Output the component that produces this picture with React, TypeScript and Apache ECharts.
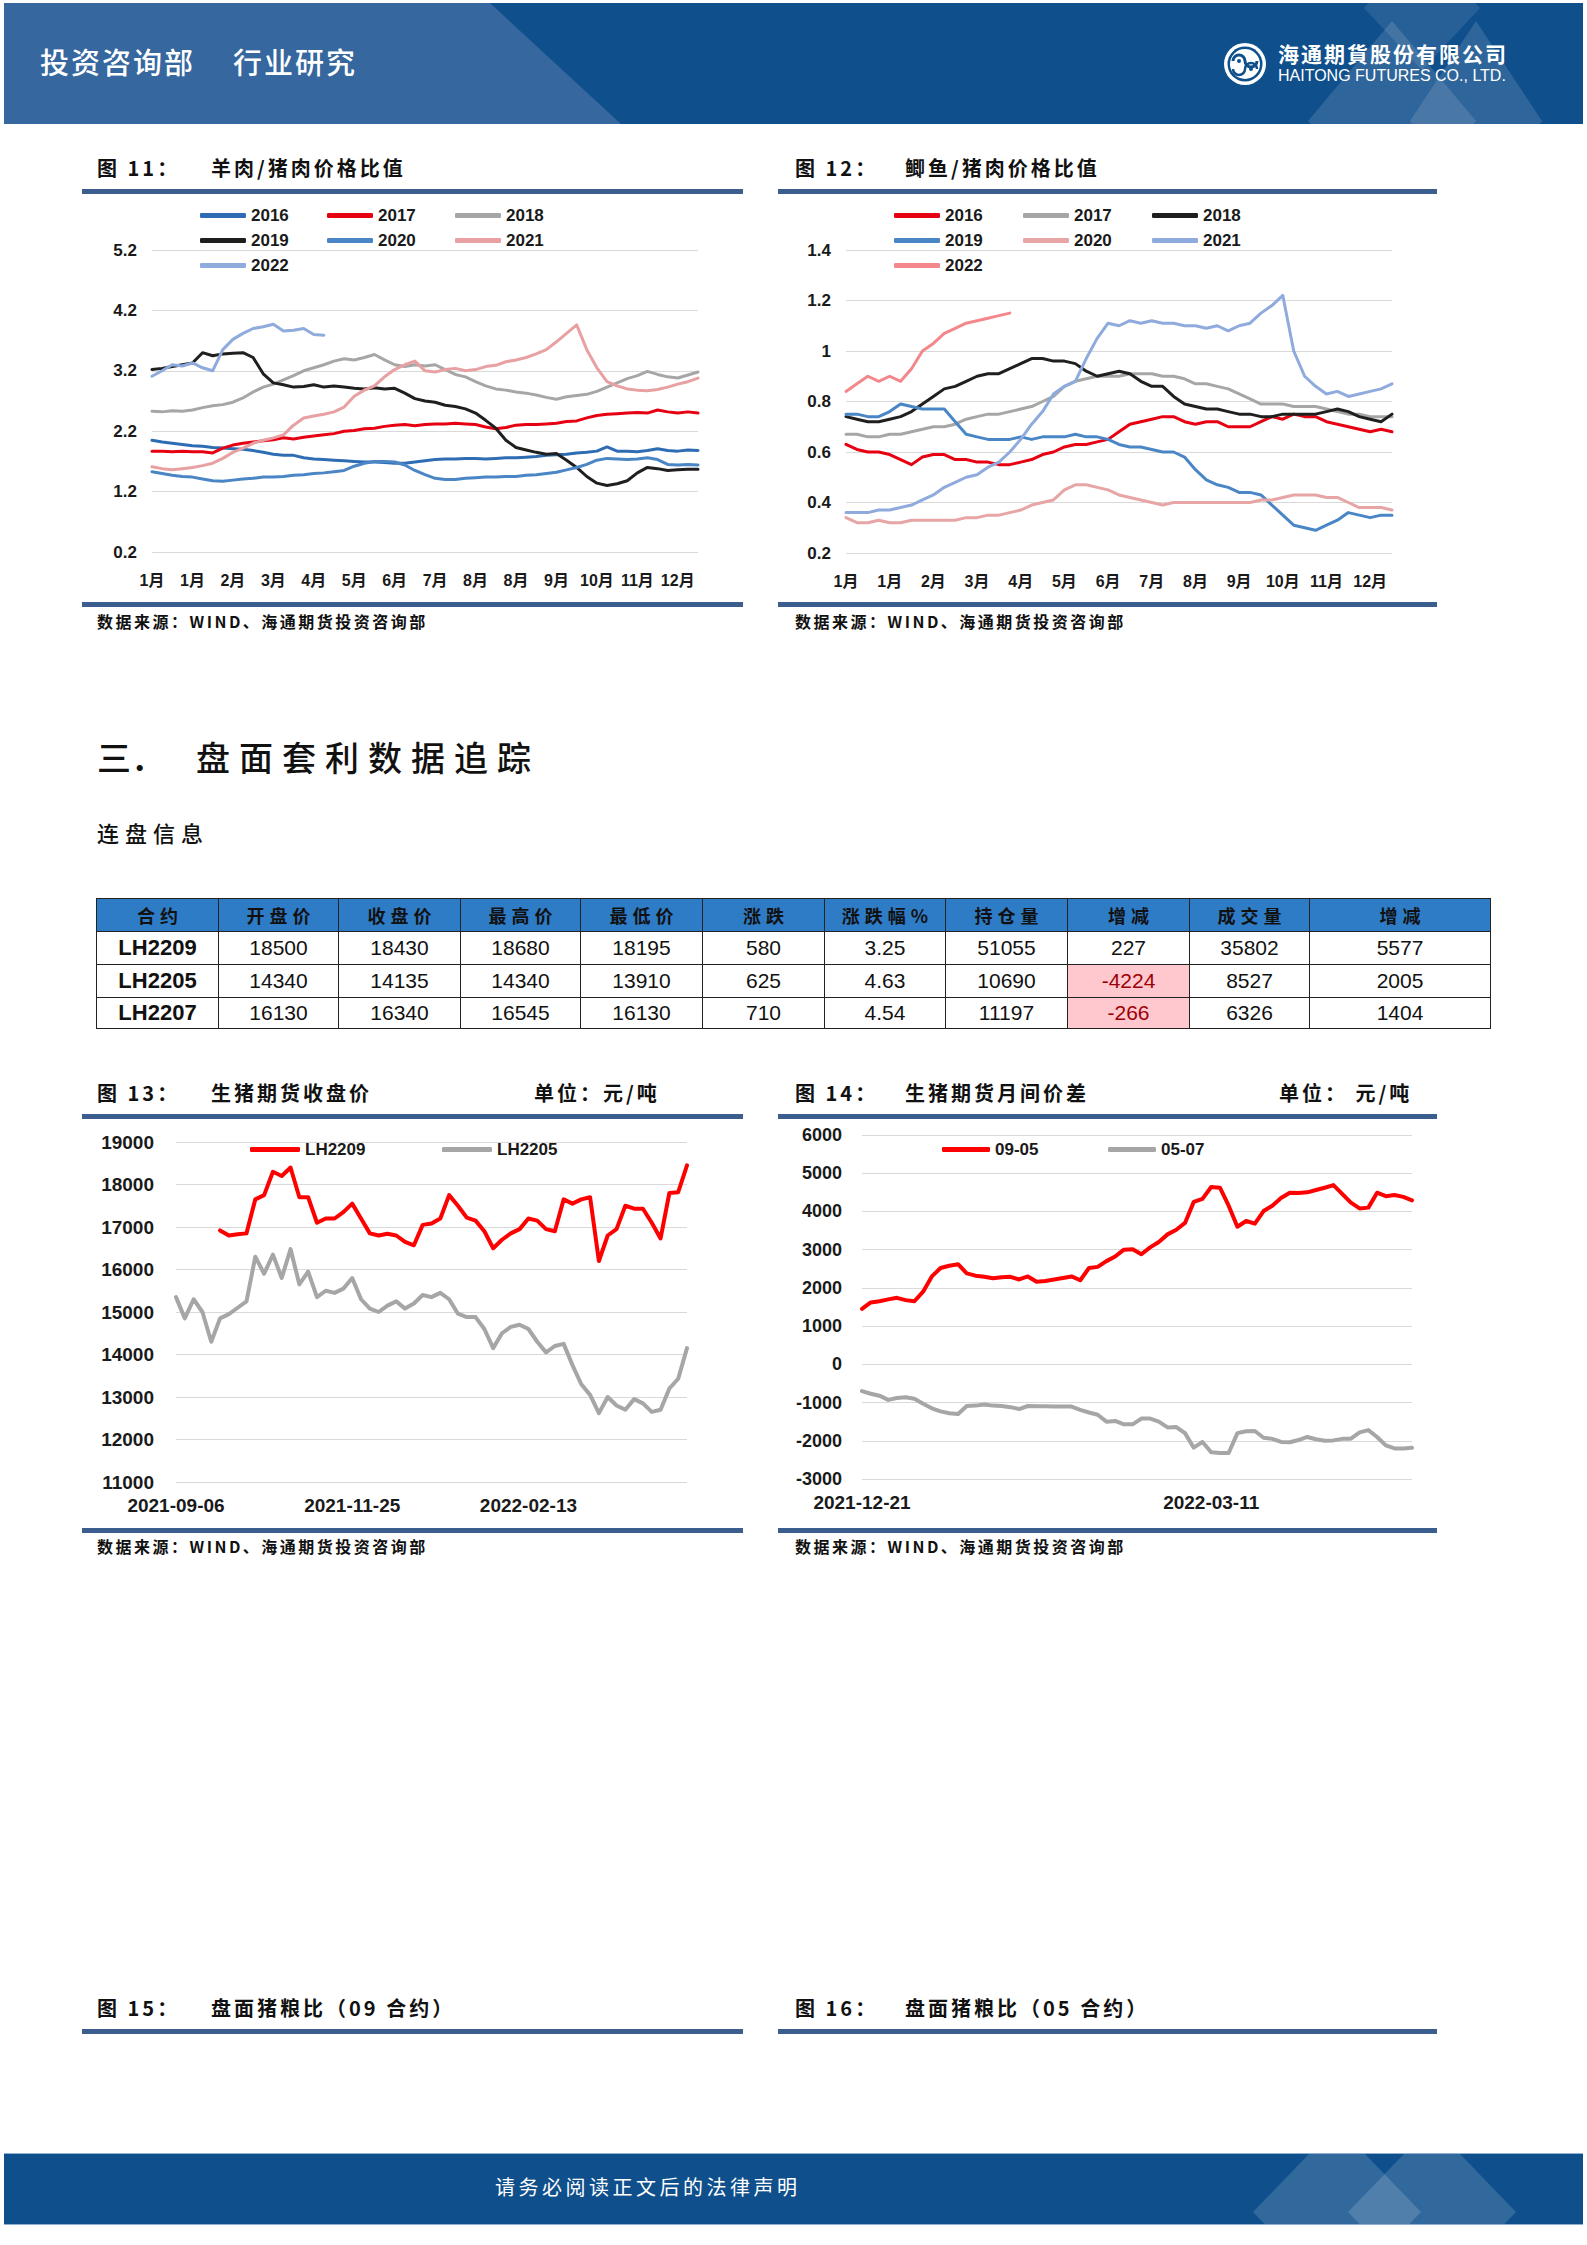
import React, { useEffect, useRef } from 'react';
import * as echarts from 'echarts';

// ---------------- DATA ----------------
const seasonNames = ['2016', '2017', '2018', '2019', '2020', '2021', '2022'];

// Fig 11: mutton / pork price ratio (55 points per year)
const monthTicks11 = ['1月', '1月', '2月', '3月', '4月', '5月', '6月', '7月', '8月', '8月', '9月', '10月', '11月', '12月'];
const mutton2016 = [2.05, 2.02, 2.0, 1.98, 1.96, 1.95, 1.93, 1.92, 1.91, 1.9, 1.88, 1.85, 1.82, 1.8, 1.8, 1.76, 1.74, 1.73, 1.72, 1.71, 1.7, 1.69, 1.69, 1.68, 1.67, 1.67, 1.69, 1.71, 1.73, 1.74, 1.74, 1.75, 1.75, 1.74, 1.75, 1.76, 1.76, 1.77, 1.78, 1.8, 1.81, 1.82, 1.84, 1.85, 1.87, 1.94, 1.87, 1.87, 1.86, 1.88, 1.91, 1.88, 1.87, 1.89, 1.88];
const mutton2017 = [1.87, 1.87, 1.86, 1.87, 1.86, 1.86, 1.84, 1.92, 1.97, 2.0, 2.02, 2.04, 2.06, 2.09, 2.07, 2.1, 2.12, 2.14, 2.16, 2.2, 2.21, 2.24, 2.25, 2.28, 2.3, 2.31, 2.29, 2.31, 2.32, 2.32, 2.33, 2.32, 2.31, 2.27, 2.24, 2.26, 2.3, 2.31, 2.31, 2.32, 2.33, 2.36, 2.37, 2.42, 2.46, 2.48, 2.49, 2.5, 2.51, 2.5, 2.55, 2.52, 2.5, 2.52, 2.5];
const mutton2018 = [2.53, 2.52, 2.54, 2.53, 2.55, 2.59, 2.62, 2.64, 2.68, 2.75, 2.85, 2.93, 2.98, 3.05, 3.12, 3.2, 3.25, 3.3, 3.36, 3.4, 3.38, 3.42, 3.47, 3.38, 3.3, 3.27, 3.3, 3.28, 3.3, 3.22, 3.14, 3.1, 3.02, 2.95, 2.9, 2.88, 2.85, 2.83, 2.8, 2.76, 2.73, 2.77, 2.79, 2.81, 2.86, 2.93, 3.0, 3.07, 3.12, 3.19, 3.14, 3.1, 3.08, 3.13, 3.18];
const mutton2019 = [3.22, 3.24, 3.27, 3.3, 3.33, 3.5, 3.45, 3.48, 3.49, 3.5, 3.42, 3.15, 3.0, 2.97, 2.93, 2.94, 2.97, 2.93, 2.95, 2.93, 2.91, 2.9, 2.92, 2.9, 2.91, 2.83, 2.74, 2.7, 2.68, 2.63, 2.61, 2.57, 2.5, 2.38, 2.25, 2.05, 1.93, 1.89, 1.85, 1.82, 1.83, 1.72, 1.6, 1.45, 1.34, 1.3, 1.33, 1.38, 1.51, 1.6, 1.58, 1.55, 1.56, 1.57, 1.57];
const mutton2020 = [1.53, 1.5, 1.47, 1.45, 1.44, 1.41, 1.38, 1.37, 1.39, 1.41, 1.42, 1.44, 1.44, 1.45, 1.47, 1.48, 1.5, 1.51, 1.53, 1.55, 1.62, 1.67, 1.7, 1.7, 1.69, 1.64, 1.55, 1.48, 1.42, 1.4, 1.4, 1.42, 1.43, 1.44, 1.44, 1.45, 1.45, 1.47, 1.48, 1.5, 1.52, 1.56, 1.6, 1.65, 1.72, 1.75, 1.74, 1.73, 1.74, 1.76, 1.73, 1.65, 1.64, 1.65, 1.64];
const mutton2021 = [1.61, 1.58, 1.56, 1.58, 1.6, 1.63, 1.67, 1.75, 1.85, 1.92, 2.0, 2.05, 2.09, 2.14, 2.3, 2.42, 2.45, 2.48, 2.52, 2.6, 2.78, 2.88, 2.95, 3.1, 3.22, 3.3, 3.36, 3.2, 3.18, 3.22, 3.24, 3.2, 3.22, 3.27, 3.29, 3.35, 3.38, 3.42, 3.48, 3.55, 3.68, 3.82, 3.96, 3.55, 3.25, 3.02, 2.95, 2.9, 2.88, 2.87, 2.89, 2.93, 2.98, 3.02, 3.08];
const mutton2022 = [3.11, 3.2, 3.3, 3.28, 3.33, 3.25, 3.2, 3.55, 3.72, 3.82, 3.9, 3.93, 3.97, 3.86, 3.87, 3.9, 3.8, 3.79];

// Fig 12: crucian carp / pork price ratio (51 points per year)
const monthTicks12 = ['1月', '1月', '2月', '3月', '4月', '5月', '6月', '7月', '8月', '9月', '10月', '11月', '12月'];
const carp2016 = [0.63, 0.61, 0.6, 0.6, 0.59, 0.57, 0.55, 0.58, 0.59, 0.59, 0.57, 0.57, 0.56, 0.56, 0.55, 0.55, 0.56, 0.57, 0.59, 0.6, 0.62, 0.63, 0.63, 0.64, 0.65, 0.68, 0.71, 0.72, 0.73, 0.74, 0.74, 0.72, 0.71, 0.72, 0.72, 0.7, 0.7, 0.7, 0.72, 0.74, 0.73, 0.75, 0.74, 0.74, 0.72, 0.71, 0.7, 0.69, 0.68, 0.69, 0.68];
const carp2017 = [0.67, 0.67, 0.66, 0.66, 0.67, 0.67, 0.68, 0.69, 0.7, 0.7, 0.71, 0.73, 0.74, 0.75, 0.75, 0.76, 0.77, 0.78, 0.8, 0.82, 0.86, 0.88, 0.89, 0.9, 0.9, 0.9, 0.91, 0.91, 0.91, 0.9, 0.9, 0.89, 0.87, 0.87, 0.86, 0.85, 0.83, 0.81, 0.79, 0.79, 0.79, 0.78, 0.78, 0.78, 0.77, 0.76, 0.75, 0.75, 0.74, 0.74, 0.74];
const carp2018 = [0.74, 0.73, 0.72, 0.72, 0.73, 0.74, 0.76, 0.79, 0.82, 0.85, 0.86, 0.88, 0.9, 0.91, 0.91, 0.93, 0.95, 0.97, 0.97, 0.96, 0.96, 0.95, 0.92, 0.9, 0.91, 0.92, 0.91, 0.88, 0.86, 0.86, 0.82, 0.79, 0.78, 0.77, 0.77, 0.76, 0.75, 0.75, 0.74, 0.74, 0.75, 0.75, 0.75, 0.75, 0.76, 0.77, 0.76, 0.74, 0.73, 0.72, 0.75];
const carp2019 = [0.75, 0.75, 0.74, 0.74, 0.76, 0.79, 0.78, 0.77, 0.77, 0.77, 0.72, 0.67, 0.66, 0.65, 0.65, 0.65, 0.66, 0.65, 0.66, 0.66, 0.66, 0.67, 0.66, 0.66, 0.65, 0.63, 0.62, 0.62, 0.61, 0.6, 0.6, 0.58, 0.53, 0.49, 0.47, 0.46, 0.44, 0.44, 0.43, 0.39, 0.35, 0.31, 0.3, 0.29, 0.31, 0.33, 0.36, 0.35, 0.34, 0.35, 0.35];
const carp2020 = [0.34, 0.32, 0.32, 0.33, 0.32, 0.32, 0.33, 0.33, 0.33, 0.33, 0.33, 0.34, 0.34, 0.35, 0.35, 0.36, 0.37, 0.39, 0.4, 0.41, 0.45, 0.47, 0.47, 0.46, 0.45, 0.43, 0.42, 0.41, 0.4, 0.39, 0.4, 0.4, 0.4, 0.4, 0.4, 0.4, 0.4, 0.4, 0.41, 0.41, 0.42, 0.43, 0.43, 0.43, 0.42, 0.42, 0.4, 0.38, 0.38, 0.38, 0.37];
const carp2021 = [0.36, 0.36, 0.36, 0.37, 0.37, 0.38, 0.39, 0.41, 0.43, 0.46, 0.48, 0.5, 0.51, 0.54, 0.56, 0.6, 0.65, 0.71, 0.76, 0.83, 0.86, 0.88, 0.97, 1.05, 1.11, 1.1, 1.12, 1.11, 1.12, 1.11, 1.11, 1.1, 1.1, 1.09, 1.1, 1.08, 1.1, 1.11, 1.15, 1.18, 1.22, 1.0, 0.9, 0.86, 0.83, 0.84, 0.82, 0.83, 0.84, 0.85, 0.87];
const carp2022 = [0.84, 0.87, 0.9, 0.88, 0.9, 0.88, 0.93, 1.0, 1.03, 1.07, 1.09, 1.11, 1.12, 1.13, 1.14, 1.15];

// Fig 13: live hog futures close (every 4 calendar days from 2021-09-06)
const closeStart = '2021-09-06';
const closeStepDays = 4;
const lh2209 = [null, null, null, null, null, 16920, 16800, 16830, 16850, 17650, 17750, 18300, 18200, 18400, 17700, 17700, 17100, 17200, 17200, 17350, 17550, 17200, 16850, 16800, 16840, 16800, 16650, 16570, 17050, 17080, 17200, 17750, 17500, 17220, 17150, 16900, 16500, 16700, 16850, 16950, 17200, 17150, 16950, 16900, 17650, 17550, 17650, 17700, 16200, 16800, 16950, 17500, 17430, 17430, 17100, 16730, 17800, 17820, 18450];
const lh2205 = [15350, 14850, 15300, 15000, 14300, 14850, 14950, 15100, 15250, 16300, 15900, 16350, 15800, 16480, 15650, 15950, 15350, 15500, 15450, 15550, 15800, 15300, 15080, 15000, 15150, 15250, 15080, 15200, 15400, 15350, 15450, 15300, 14960, 14880, 14880, 14600, 14150, 14500, 14650, 14700, 14600, 14300, 14050, 14200, 14250, 13750, 13300, 13050, 12620, 13000, 12800, 12700, 12950, 12850, 12650, 12700, 13200, 13430, 14150];

// Fig 14: calendar spreads (every 2 calendar days from 2021-12-21)
const spreadStart = '2021-12-21';
const spreadStepDays = 2;
const spread0905 = [1450, 1620, 1650, 1700, 1740, 1680, 1650, 1900, 2300, 2520, 2580, 2620, 2380, 2320, 2290, 2250, 2280, 2290, 2220, 2300, 2160, 2180, 2220, 2260, 2300, 2200, 2520, 2550, 2700, 2820, 3000, 3010, 2880, 3060, 3200, 3400, 3520, 3700, 4250, 4330, 4640, 4620, 4150, 3600, 3750, 3680, 4010, 4150, 4350, 4490, 4480, 4500, 4560, 4620, 4690, 4460, 4230, 4080, 4100, 4490, 4400, 4430, 4380, 4290];
const spread0507 = [-700, -770, -820, -930, -880, -860, -900, -1030, -1150, -1230, -1280, -1300, -1090, -1080, -1050, -1080, -1090, -1120, -1170, -1090, -1095, -1095, -1100, -1100, -1105, -1190, -1260, -1320, -1500, -1480, -1570, -1570, -1420, -1420, -1500, -1650, -1640, -1800, -2180, -2030, -2300, -2320, -2320, -1800, -1750, -1745, -1920, -1950, -2030, -2040, -1980, -1900, -1960, -2000, -1990, -1950, -1944, -1780, -1720, -1900, -2120, -2200, -2200, -2180];

// Table: continuous contract info
const tableHeaders = ['合约', '开盘价', '收盘价', '最高价', '最低价', '涨跌', '涨跌幅%', '持仓量', '增减', '成交量', '增减'];
const tableRows = [
  ['LH2209', '18500', '18430', '18680', '18195', '580', '3.25', '51055', '227', '35802', '5577'],
  ['LH2205', '14340', '14135', '14340', '13910', '625', '4.63', '10690', '-4224', '8527', '2005'],
  ['LH2207', '16130', '16340', '16545', '16130', '710', '4.54', '11197', '-266', '6326', '1404'],
];

// ---------------- STYLE ----------------
const FONT = '"Liberation Sans", Arial, "Noto Sans CJK SC", sans-serif';
const CJK = '"Noto Sans CJK SC", "Noto Sans CJK JP", sans-serif';
const BAR = '#3B5E8E';
const TXT = { color: '#1a1a1a', fontFamily: FONT, fontWeight: 'bold' as const };

const colors11 = ['#2E6DB4', '#E60012', '#A6A6A6', '#1F1F1F', '#4A86C5', '#E8A0A2', '#8FAADC'];
const colors12 = ['#E60012', '#A6A6A6', '#1F1F1F', '#4A86C5', '#E8A5A5', '#8FAADC', '#F4878B'];

function dateCats(start: string, step: number, n: number) {
  const base = Date.parse(start + 'T00:00:00Z');
  return Array.from({ length: n }, (_, i) => new Date(base + i * step * 86400000).toISOString().slice(0, 10));
}

function line(name: string, data: any[], color: string, width: number) {
  return {
    name, type: 'line', data, showSymbol: false, symbol: 'none', connectNulls: false,
    lineStyle: { color, width, join: 'round', cap: 'round' }, itemStyle: { color },
  };
}

function seasonOption(cfg: any) {
  const cats = Array.from({ length: cfg.n }, (_, i) => String(i));
  return {
    animation: false,
    grid: cfg.grid,
    legend: cfg.names.map((name: string, k: number) => ({
      data: [name], left: cfg.legendX[k % 3], top: cfg.legendY[Math.floor(k / 3)] - 9,
      padding: 0, itemWidth: 46, itemHeight: 5, icon: 'roundRect', selectedMode: false,
      textStyle: { ...TXT, fontSize: 17 },
    })),
    xAxis: {
      type: 'category', data: cats, boundaryGap: false,
      axisLine: { show: false }, axisTick: { show: false },
      axisLabel: {
        ...TXT, fontSize: 16, margin: 20,
        interval: (i: number) => i % cfg.step === 0,
        formatter: (_v: string, i: number) => cfg.ticks[i / cfg.step] ?? '',
      },
    },
    yAxis: {
      type: 'value', min: cfg.yMin, max: cfg.yMax, interval: cfg.yInt,
      axisLine: { show: false }, axisTick: { show: false },
      splitLine: { lineStyle: { color: '#D9D9D9', width: 1 } },
      axisLabel: { ...TXT, fontSize: 17, margin: 15, formatter: cfg.yFmt },
    },
    series: cfg.series.map((d: number[], k: number) => line(cfg.names[k], d, cfg.colors[k], 3)),
  };
}

const option11 = seasonOption({
  n: 55, step: 4, ticks: monthTicks11, names: seasonNames, colors: colors11,
  series: [mutton2016, mutton2017, mutton2018, mutton2019, mutton2020, mutton2021, mutton2022],
  grid: { left: 70, top: 50, width: 546, height: 302 },
  legendX: [118, 245, 373], legendY: [16, 41, 66],
  yMin: 0.2, yMax: 5.2, yInt: 1, yFmt: (v: number) => v.toFixed(1),
});

const option12 = seasonOption({
  n: 51, step: 4, ticks: monthTicks12, names: seasonNames, colors: colors12,
  series: [carp2016, carp2017, carp2018, carp2019, carp2020, carp2021, carp2022],
  grid: { left: 68, top: 50, width: 546, height: 303 },
  legendX: [116, 245, 374], legendY: [16, 41, 66],
  yMin: 0.2, yMax: 1.4, yInt: 0.2, yFmt: (v: number) => String(+v.toFixed(1)),
});

function twoLineOption(cfg: any) {
  return {
    animation: false,
    grid: cfg.grid,
    legend: cfg.names.map((name: string, k: number) => ({
      data: [name], left: cfg.legendX[k], top: 16, padding: 0,
      itemWidth: cfg.legendW, itemHeight: 5, icon: 'roundRect', selectedMode: false,
      textStyle: { ...TXT, fontSize: 17 },
    })),
    xAxis: {
      type: 'category', data: cfg.cats, boundaryGap: false,
      axisLine: { show: false }, axisTick: { show: false },
      axisLabel: { ...TXT, fontSize: cfg.xFont, margin: cfg.xMargin, interval: (i: number) => i % cfg.step === 0 },
    },
    yAxis: {
      type: 'value', min: cfg.yMin, max: cfg.yMax, interval: cfg.yInt,
      axisLine: { show: false }, axisTick: { show: false },
      splitLine: { lineStyle: { color: '#D9D9D9', width: 1 } },
      axisLabel: { ...TXT, fontSize: cfg.yFont, margin: cfg.yMargin, formatter: (v: number) => String(v) },
    },
    series: cfg.series.map((d: any[], k: number) => line(cfg.names[k], d, cfg.colors[k], 4)),
  };
}

const option13 = twoLineOption({
  cats: dateCats(closeStart, closeStepDays, lh2205.length), step: 20,
  names: ['LH2209', 'LH2205'], colors: ['#FF0000', '#A6A6A6'], series: [lh2209, lh2205],
  grid: { left: 94, top: 17, width: 511, height: 340 },
  legendX: [168, 360], legendW: 50,
  yMin: 11000, yMax: 19000, yInt: 1000, yFont: 19, yMargin: 22, xFont: 19, xMargin: 14,
});

const option14 = twoLineOption({
  cats: dateCats(spreadStart, spreadStepDays, spread0905.length), step: 40,
  names: ['09-05', '05-07'], colors: ['#FF0000', '#A6A6A6'], series: [spread0905, spread0507],
  grid: { left: 84, top: 10, width: 550, height: 344 },
  legendX: [164, 330], legendW: 48,
  yMin: -3000, yMax: 6000, yInt: 1000, yFont: 18, yMargin: 20, xFont: 19, xMargin: 14,
});

// ---------------- COMPONENTS ----------------
function Chart({ option, left, top, width, height }: any) {
  const ref = useRef<HTMLDivElement>(null);
  useEffect(() => {
    const c = echarts.init(ref.current!, null, { renderer: 'svg' });
    c.setOption(option);
    return () => c.dispose();
  }, [option]);
  return <div ref={ref} style={{ position: 'absolute', left, top, width, height }} />;
}

function T({ x, cy, size, children, style }: any) {
  return (
    <div style={{
      position: 'absolute', left: x, top: cy - size * 0.65, fontSize: size,
      lineHeight: size * 1.3 + 'px', whiteSpace: 'nowrap', fontFamily: CJK, color: '#111', ...style,
    }}>{children}</div>
  );
}

function Bar({ x1, x2, y }: any) {
  return <div style={{ position: 'absolute', left: x1, top: y, width: x2 - x1, height: 5, background: BAR }} />;
}

function FigTitle({ x, x2, cy, num, title, unit, unitX }: any) {
  const st = { fontWeight: 700, letterSpacing: 3 };
  return (
    <>
      <T x={x} cy={cy} size={20} style={st}>图 {num}：</T>
      <T x={x2} cy={cy} size={20} style={st}>{title}</T>
      {unit && <T x={unitX} cy={cy} size={20} style={st}>{unit}</T>}
    </>
  );
}

function Source({ x, cy }: any) {
  return <T x={x} cy={cy} size={16} style={{ fontWeight: 700, letterSpacing: 2.5 }}>数据来源：WIND、海通期货投资咨询部</T>;
}

function diamond(cx: number, cy: number, hw: number, hh: number) {
  return `${cx},${cy - hh} ${cx + hw},${cy} ${cx},${cy + hh} ${cx - hw},${cy}`;
}

function Header() {
  return (
    <>
      <svg width={1579} height={121} style={{ position: 'absolute', left: 4, top: 3 }}>
        <rect width={1579} height={121} fill="#0F4F8C" />
        <polygon points="0,0 486,0 617,121 0,121" fill="#36679E" />
        <polygon points={diamond(1388, 118, 84, 100)} fill="#ffffff" fillOpacity={0.13} />
        <polygon points={diamond(1472, 118, 66, 100)} fill="#ffffff" fillOpacity={0.13} />
        <polygon points={diamond(1418, 5, 58, 62)} fill="#ffffff" fillOpacity={0.1} />
        <g transform="translate(1241,61)">
          <circle r={21} fill="#fff" />
          <circle r={17.5} fill="#0F4F8C" />
          <circle r={15} fill="#fff" />
          <path d="M -12 -3 a 6 6 0 1 1 12 0 a 6 6 0 1 0 12 0" stroke="#0F4F8C" strokeWidth={3} fill="none" />
          <path d="M -12 5 a 6 6 0 1 0 12 0 a 6 6 0 1 1 12 0" stroke="#0F4F8C" strokeWidth={2.5} fill="none" />
          <circle cx={-6} cy={-3} r={2} fill="#0F4F8C" />
          <circle cx={6} cy={5} r={2} fill="#0F4F8C" />
        </g>
      </svg>
      <T x={40} cy={62} size={29} style={{ color: '#fff', fontWeight: 500, letterSpacing: 2 }}>投资咨询部</T>
      <T x={233} cy={62} size={29} style={{ color: '#fff', fontWeight: 500, letterSpacing: 2 }}>行业研究</T>
      <T x={1278} cy={54} size={21} style={{ color: '#fff', fontWeight: 700, letterSpacing: 2 }}>海通期貨股份有限公司</T>
      <T x={1278} cy={76} size={16} style={{ color: '#fff', fontFamily: FONT }}>HAITONG FUTURES CO., LTD.</T>
    </>
  );
}

function Footer() {
  return (
    <>
      <svg width={1579} height={72} style={{ position: 'absolute', left: 4, top: 2153 }}>
        <rect width={1579} height={72} fill="#0F4F8C" />
        <polygon points={diamond(1333, 59, 84, 87)} fill="#ffffff" fillOpacity={0.15} />
        <polygon points={diamond(1428, 59, 84, 87)} fill="#ffffff" fillOpacity={0.15} />
        <rect width={1579} height={1} fill="#8FB0D4" />
        <rect y={71} width={1579} height={1} fill="#8FB0D4" />
      </svg>
      <T x={495} cy={2187} size={20} style={{ color: '#fff', letterSpacing: 3.5 }}>请务必阅读正文后的法律声明</T>
    </>
  );
}

const colWidths = [122, 120, 122, 120, 122, 122, 121, 122, 122, 120, 181];

function DataTable() {
  const cell = { border: '1px solid #222', padding: 0, textAlign: 'center' as const };
  return (
    <table style={{ position: 'absolute', left: 96, top: 898, width: 1394, borderCollapse: 'collapse', tableLayout: 'fixed' }}>
      <colgroup>{colWidths.map((w, i) => <col key={i} style={{ width: w }} />)}</colgroup>
      <thead>
        <tr style={{ height: 33 }}>
          {tableHeaders.map((h, i) => (
            <th key={i} style={{ ...cell, background: '#2E7BC6', fontFamily: CJK, fontWeight: 700, fontSize: 18, letterSpacing: 5, paddingLeft: 5, color: '#111' }}>{h}</th>
          ))}
        </tr>
      </thead>
      <tbody>
        {tableRows.map((r, ri) => (
          <tr key={ri} style={{ height: ri === 2 ? 31 : 33 }}>
            {r.map((v, ci) => {
              const neg = ci === 8 && v.startsWith('-');
              return (
                <td key={ci} style={{
                  ...cell, fontFamily: FONT, fontSize: ci === 0 ? 22 : 21, fontWeight: ci === 0 ? 700 : 400,
                  background: neg ? '#FFC7CE' : '#fff', color: neg ? '#9C0006' : '#111',
                }}>{v}</td>
              );
            })}
          </tr>
        ))}
      </tbody>
    </table>
  );
}

export default function App() {
  return (
    <div style={{ position: 'relative', width: 1587, height: 2245, background: '#fff', overflow: 'hidden' }}>
      <style>{'html,body{margin:0;padding:0;background:#fff}'}</style>
      <Header />

      {/* Fig 11 & 12 */}
      <FigTitle x={97} x2={211} cy={168} num="11" title="羊肉/猪肉价格比值" />
      <FigTitle x={795} x2={905} cy={168} num="12" title="鲫鱼/猪肉价格比值" />
      <Bar x1={82} x2={743} y={189} />
      <Bar x1={778} x2={1437} y={189} />
      <Chart option={option11} left={82} top={200} width={665} height={400} />
      <Chart option={option12} left={778} top={200} width={660} height={400} />
      <Bar x1={82} x2={743} y={602} />
      <Bar x1={778} x2={1437} y={602} />
      <Source x={97} cy={621} />
      <Source x={795} cy={621} />

      {/* Section */}
      <T x={97} cy={757} size={34} style={{ fontWeight: 500 }}>三．</T>
      <T x={196} cy={757} size={34} style={{ fontWeight: 500, letterSpacing: 9 }}>盘面套利数据追踪</T>
      <T x={97} cy={832} size={22} style={{ fontWeight: 500, letterSpacing: 6 }}>连盘信息</T>
      <DataTable />

      {/* Fig 13 & 14 */}
      <FigTitle x={97} x2={211} cy={1093} num="13" title="生猪期货收盘价" unit="单位：元/吨" unitX={534} />
      <FigTitle x={795} x2={905} cy={1093} num="14" title="生猪期货月间价差" unit="单位：  元/吨" unitX={1279} />
      <Bar x1={82} x2={743} y={1114} />
      <Bar x1={778} x2={1437} y={1114} />
      <Chart option={option13} left={82} top={1125} width={665} height={400} />
      <Chart option={option14} left={778} top={1125} width={660} height={400} />
      <Bar x1={82} x2={743} y={1528} />
      <Bar x1={778} x2={1437} y={1528} />
      <Source x={97} cy={1546} />
      <Source x={795} cy={1546} />

      {/* Fig 15 & 16 */}
      <FigTitle x={97} x2={211} cy={2008} num="15" title="盘面猪粮比（09 合约）" />
      <FigTitle x={795} x2={905} cy={2008} num="16" title="盘面猪粮比（05 合约）" />
      <Bar x1={82} x2={743} y={2029} />
      <Bar x1={778} x2={1437} y={2029} />

      <Footer />
    </div>
  );
}
